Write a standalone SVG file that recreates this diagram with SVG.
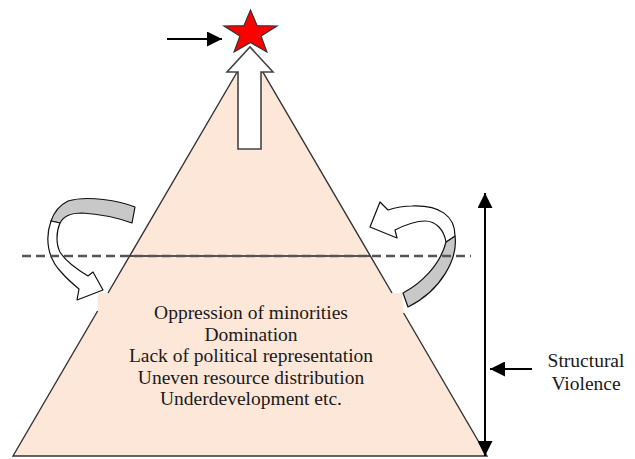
<svg xmlns="http://www.w3.org/2000/svg" width="635" height="459" viewBox="0 0 635 459">
<style>
.edge{stroke:#333;stroke-width:1.4;fill:none}
.txt{font-family:"Liberation Serif","Times New Roman",serif;font-size:19.5px;fill:#1a1a1a;text-anchor:middle}
.curve{stroke:#111;stroke-width:1.2;stroke-linejoin:round}
</style>
<defs>
<marker id="ah" viewBox="0 0 10 10" refX="10" refY="5" markerWidth="15" markerHeight="15" markerUnits="userSpaceOnUse" orient="auto-start-reverse">
<path d="M0,0 L10,5 L0,10 Z" fill="#000"/>
</marker>
</defs>
<rect width="635" height="459" fill="#fff"/>
<g id="pyramid">
<path d="M250,50 L392,293 L402,293 L403.6,313 L487,456 L13,456 L97.6,311 L98,293 L108,293 Z" fill="#fce7d8"/>
<path class="edge" d="M250,50 L108,293 M97.6,311 L13,456 L487,456 L403.6,313 M392,293 L250,50"/>
<line x1="130" y1="256" x2="370" y2="256" stroke="#222" stroke-width="1.5"/>
</g>
<g id="causes">
<text class="txt" x="251" y="319">Oppression of minorities</text>
<text class="txt" x="251" y="340.5">Domination</text>
<text class="txt" x="251" y="362">Lack of political representation</text>
<text class="txt" x="251" y="383.5">Uneven resource distribution</text>
<text class="txt" x="251" y="405">Underdevelopment etc.</text>
</g>
<g id="up-arrow">
<path d="M238,149 L238,72 L227,72 L250,47 L273,72 L261,72 L261,149 Z" fill="#fff" stroke="#444" stroke-width="1.6" stroke-linejoin="miter"/>
</g>
<g id="star">
<polygon points="250.5,10 257.1,25.7 277,26 261.1,36.1 266.9,52 250.5,42.5 234.1,52 239.9,36.1 224,26 243.9,25.7" fill="#ff0000" stroke="#333" stroke-width="1.2" stroke-linejoin="miter"/>
</g>
<g id="left-curve">
<path class="curve" d="M135,207 C120,201 88,195 68,201 C60,205 54,212 51,221 L60,223 C63,217 70,213 82,213 C100,214 118,218 132,223 Z" fill="#c8c8c8"/>
<path class="curve" d="M51,221 C45,238 47,258 62,273 C67,279 73,284 79,289 L77,300 L103,290 L93,272 L88,276 C78,270 66,262 60,252 C56,244 56,232 60,223 Z" fill="#fff"/>
</g>
<g id="right-curve">
<path class="curve" d="M403,293 C420,284 440,266 446,242 L455,236 C458,258 442,290 408,307 Z" fill="#c8c8c8"/>
<path class="curve" d="M455,236 C455,216 440,205 412,206 C402,206 394,208 388,210 L380,202 L370,227 L397,238 L395,230 C405,225 415,221 425,221 C436,221 444,230 446,242 Z" fill="#fff"/>
</g>
<g id="structural-label">
<text class="txt" x="586" y="367">Structural</text>
<text class="txt" x="586" y="390">Violence</text>
</g>
<g id="connectors">
<line x1="22" y1="256" x2="471" y2="256" stroke="#555" stroke-width="2.6" stroke-dasharray="9,5"/>
<line x1="167" y1="39" x2="222" y2="39" stroke="#000" stroke-width="2" marker-end="url(#ah)"/>
<line x1="485" y1="193" x2="485" y2="456" stroke="#000" stroke-width="2" marker-start="url(#ah)" marker-end="url(#ah)"/>
<line x1="532" y1="369" x2="490" y2="369" stroke="#000" stroke-width="2" marker-end="url(#ah)"/>
</g>
</svg>
